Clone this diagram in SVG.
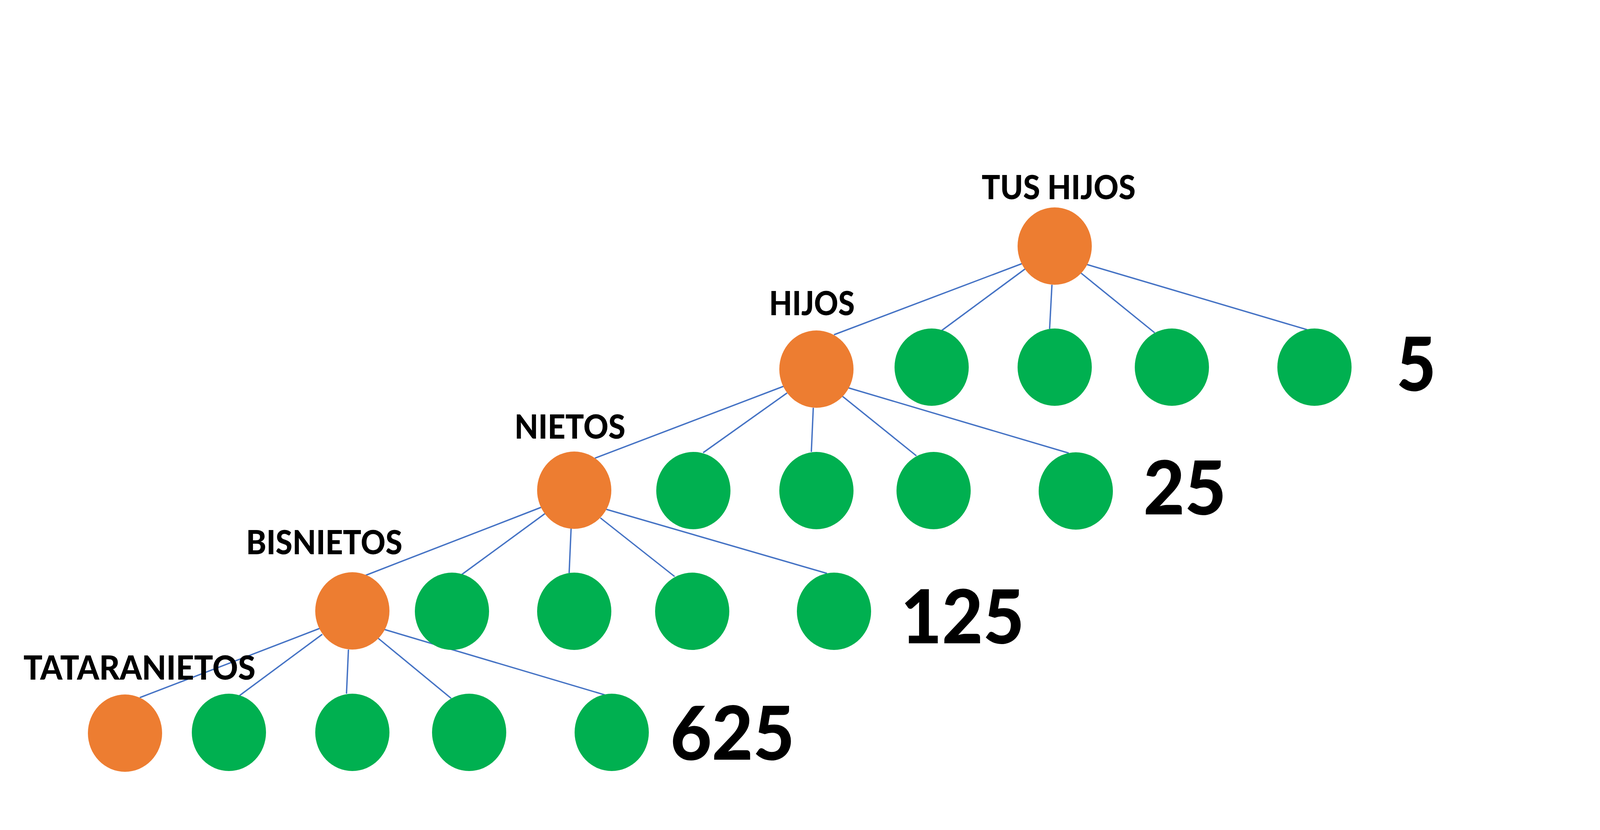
<svg xmlns="http://www.w3.org/2000/svg" width="4367" height="2125" viewBox="0 0 4367 2125">
<style>
.o{fill:#ED7D31}
.g{fill:#00B050}
.edge{stroke:#4472C4;stroke-width:3.5;fill:none}
.lbl{font-family:Lato,"Open Sans","Liberation Sans",sans-serif;font-weight:900;font-size:85px;fill:#000}
.num{font-family:Lato,"Open Sans","Liberation Sans",sans-serif;font-weight:900;font-size:191px;fill:#000}
</style>
<rect x="0" y="0" width="4367" height="2125" fill="#fff"/>
<g id="connectors">
<line class="edge" x1="2616" y1="675" x2="2135" y2="857"/>
<line class="edge" x1="2625" y1="688" x2="2411" y2="846"/>
<line class="edge" x1="2693" y1="729" x2="2687" y2="842"/>
<line class="edge" x1="2766" y1="698" x2="2956" y2="852"/>
<line class="edge" x1="2782" y1="677" x2="3346" y2="844"/>
<line class="edge" x1="2006" y1="989" x2="1523" y2="1173"/>
<line class="edge" x1="2015" y1="1006" x2="1800" y2="1159"/>
<line class="edge" x1="2082" y1="1044" x2="2077" y2="1157"/>
<line class="edge" x1="2156" y1="1014" x2="2346" y2="1167"/>
<line class="edge" x1="2172" y1="993" x2="2736" y2="1160"/>
<line class="edge" x1="1385" y1="1299" x2="936" y2="1473"/>
<line class="edge" x1="1395" y1="1315" x2="1182" y2="1471"/>
<line class="edge" x1="1462" y1="1353" x2="1457" y2="1467"/>
<line class="edge" x1="1537" y1="1326" x2="1727" y2="1476"/>
<line class="edge" x1="1552" y1="1304" x2="2117" y2="1468"/>
<line class="edge" x1="818" y1="1609" x2="358" y2="1786"/>
<line class="edge" x1="825" y1="1624" x2="613" y2="1781"/>
<line class="edge" x1="892" y1="1663" x2="887" y2="1776"/>
<line class="edge" x1="968" y1="1634" x2="1155" y2="1788"/>
<line class="edge" x1="982" y1="1611" x2="1548" y2="1779"/>
</g>
<g id="n-tus-hijos"><ellipse class="o" cx="2700" cy="630" rx="95" ry="99"/><text class="lbl" x="2513" y="510" textLength="394" lengthAdjust="spacingAndGlyphs">TUS HIJOS</text></g>
<g id="n-hijos"><ellipse class="o" cx="2090" cy="945" rx="95" ry="99"/><text class="lbl" x="1969" y="807" textLength="219" lengthAdjust="spacingAndGlyphs">HIJOS</text></g>
<g id="n1-2"><ellipse class="g" cx="2385" cy="940" rx="95" ry="99"/></g>
<g id="n1-3"><ellipse class="g" cx="2700" cy="940" rx="95" ry="99"/></g>
<g id="n1-4"><ellipse class="g" cx="3000" cy="940" rx="95" ry="99"/></g>
<g id="n1-5"><ellipse class="g" cx="3365" cy="940" rx="95" ry="99"/></g>
<g id="count-5"><text class="num" x="3575" y="1000" textLength="101" lengthAdjust="spacingAndGlyphs">5</text></g>
<g id="n-nietos"><ellipse class="o" cx="1470" cy="1255" rx="95" ry="99"/><text class="lbl" x="1317" y="1123" textLength="284" lengthAdjust="spacingAndGlyphs">NIETOS</text></g>
<g id="n2-2"><ellipse class="g" cx="1775" cy="1256" rx="95" ry="99"/></g>
<g id="n2-3"><ellipse class="g" cx="2090" cy="1256" rx="95" ry="99"/></g>
<g id="n2-4"><ellipse class="g" cx="2390" cy="1256" rx="95" ry="99"/></g>
<g id="n2-5"><ellipse class="g" cx="2754" cy="1257" rx="95" ry="99"/></g>
<g id="count-25"><text class="num" x="2927" y="1317" textLength="212" lengthAdjust="spacingAndGlyphs">25</text></g>
<g id="n-bisnietos"><ellipse class="o" cx="902" cy="1564" rx="95" ry="99"/><text class="lbl" x="630" y="1419" textLength="400" lengthAdjust="spacingAndGlyphs">BISNIETOS</text></g>
<g id="n3-2"><ellipse class="g" cx="1157" cy="1565" rx="95" ry="99"/></g>
<g id="n3-3"><ellipse class="g" cx="1470" cy="1565" rx="95" ry="99"/></g>
<g id="n3-4"><ellipse class="g" cx="1772" cy="1565" rx="95" ry="99"/></g>
<g id="n3-5"><ellipse class="g" cx="2135" cy="1565" rx="95" ry="99"/></g>
<g id="count-125"><text class="num" x="2306" y="1647" textLength="316" lengthAdjust="spacingAndGlyphs">125</text></g>
<g id="n-tataranietos"><ellipse class="o" cx="320" cy="1877" rx="95" ry="99"/><text class="lbl" x="60" y="1740" textLength="594" lengthAdjust="spacingAndGlyphs">TATARANIETOS</text></g>
<g id="n4-2"><ellipse class="g" cx="586" cy="1875" rx="95" ry="99"/></g>
<g id="n4-3"><ellipse class="g" cx="902" cy="1875" rx="95" ry="99"/></g>
<g id="n4-4"><ellipse class="g" cx="1201" cy="1875" rx="95" ry="99"/></g>
<g id="n4-5"><ellipse class="g" cx="1566" cy="1875" rx="95" ry="99"/></g>
<g id="count-625"><text class="num" x="1716" y="1945" textLength="318" lengthAdjust="spacingAndGlyphs">625</text></g>
</svg>
